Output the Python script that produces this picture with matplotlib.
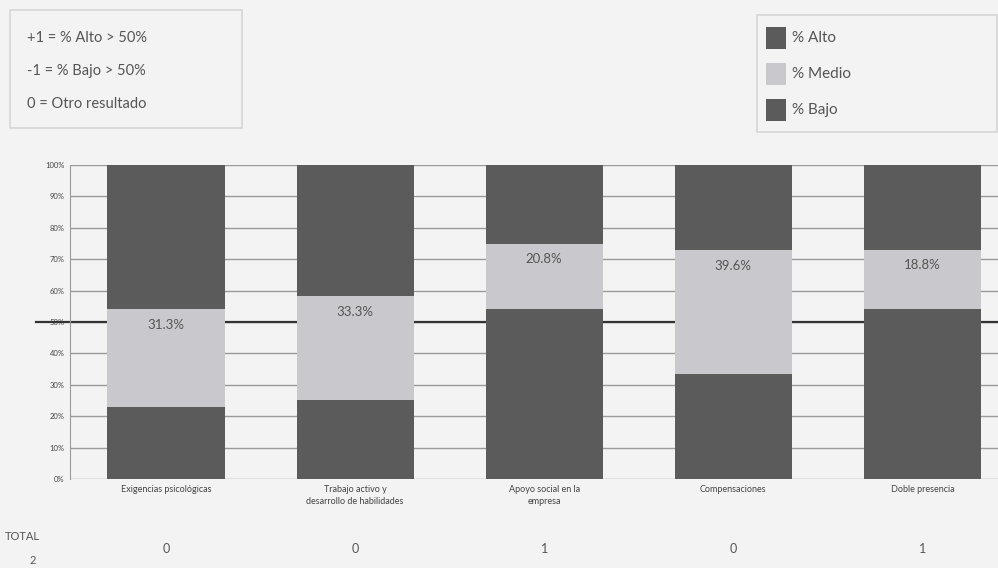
import matplotlib
matplotlib.use("Agg")
import matplotlib.pyplot as plt
from matplotlib.patches import Rectangle
import numpy as np

plt.rcParams['font.family'] = ['Lato', 'DejaVu Sans']

categories = ['Exigencias psicológicas', 'Trabajo activo y\ndesarrollo de habilidades',
              'Apoyo social en la\nempresa', 'Compensaciones', 'Doble presencia']
bajo = [22.9, 25.0, 54.2, 33.3, 54.2]
medio = [31.3, 33.3, 20.8, 39.6, 18.8]
alto = [45.8, 41.7, 25.0, 27.1, 27.1]
totals = ['0', '0', '1', '0', '1']
total_sum = '2'
yticks = [0, 10, 20, 30, 40, 50, 60, 70, 80, 90, 100]
note_lines = ['+1 = % Alto > 50%', '-1 = % Bajo > 50%', '0 = Otro resultado']
legend_labels = ['% Alto', '% Medio', '% Bajo']

bg = '#f3f3f3'
dark = '#5b5b5b'
light = '#c9c9cd'
txt = '#555555'
W, H = 998, 568


def fx(px):
    return px / W


def fy(py):
    return 1 - py / H


fig = plt.figure(figsize=(9.98, 5.68), dpi=100, facecolor=bg)
ax = fig.add_axes([0.0701, 0.1567, 0.93, 0.5528], facecolor=bg)

x = np.arange(len(categories))
w = 0.62
bottoms_medio = np.array(bajo)
bottoms_alto = np.array(bajo) + np.array(medio)
ax.bar(x, bajo, w, color=dark, zorder=3)
ax.bar(x, medio, w, bottom=bottoms_medio, color=light, zorder=3)
ax.bar(x, alto, w, bottom=bottoms_alto, color=dark, zorder=3)

for xi, top, m in zip(x, bottoms_alto, medio):
    ax.text(xi, top - 5, f'{m:.1f}%', ha='center', va='center',
            fontsize=9.5, color=txt, zorder=4)

# grid and the 50% reference line
for yv in yticks:
    ax.axhline(yv, color='#9a9a9a', lw=1.0, zorder=1)
ax.plot([-0.69, 4.6], [50, 50], color='#333333', lw=1.6, zorder=2, clip_on=False)

ax.set_xlim(-0.508, 4.4)
ax.set_ylim(0, 100)
ax.set_yticks(yticks)
ax.set_yticklabels([f'{v}%' for v in yticks], fontsize=5.5, color='#444444')
ax.set_xticks(x)
ax.set_xticklabels(categories, fontsize=6.5, color='#444444', linespacing=1.5)
ax.tick_params(length=0, pad=4)
for s in ['top', 'right', 'bottom']:
    ax.spines[s].set_visible(False)
ax.spines['left'].set_color('#9a9a9a')

# totals row
fig.text(fx(22), fy(537), 'TOTAL', fontsize=8, color=txt, ha='center', va='center')
fig.text(fx(33), fy(560), total_sum, fontsize=8, color=txt, ha='center', va='center')
for xi, t in zip(x, totals):
    xf = ax.transData.transform((xi, 0))[0]
    fig.text(xf / W, fy(549), t, fontsize=9, color=txt, ha='center', va='center')

# note box
fig.patches.append(Rectangle((fx(10), fy(128)), fx(242) - fx(10), fy(10) - fy(128),
                             transform=fig.transFigure, fc=bg, ec='#d6d6d6', lw=1.2))
for i, line in enumerate(note_lines):
    fig.text(fx(27), fy(38 + 33 * i), line, fontsize=10.5, color=txt, ha='left', va='center')

# legend box
fig.patches.append(Rectangle((fx(757), fy(132)), fx(997) - fx(757), fy(15) - fy(132),
                             transform=fig.transFigure, fc=bg, ec='#d6d6d6', lw=1.2))
for i, (lab, c) in enumerate(zip(legend_labels, [dark, light, dark])):
    yc = 38 + 36 * i
    fig.patches.append(Rectangle((fx(766), fy(yc + 11)), fx(786) - fx(766), fy(yc - 11) - fy(yc + 11),
                                 transform=fig.transFigure, fc=c, ec='none'))
    fig.text(fx(792), fy(yc), lab, fontsize=11, color=txt, ha='left', va='center')

fig.savefig('out.png', dpi=100, facecolor=bg)
